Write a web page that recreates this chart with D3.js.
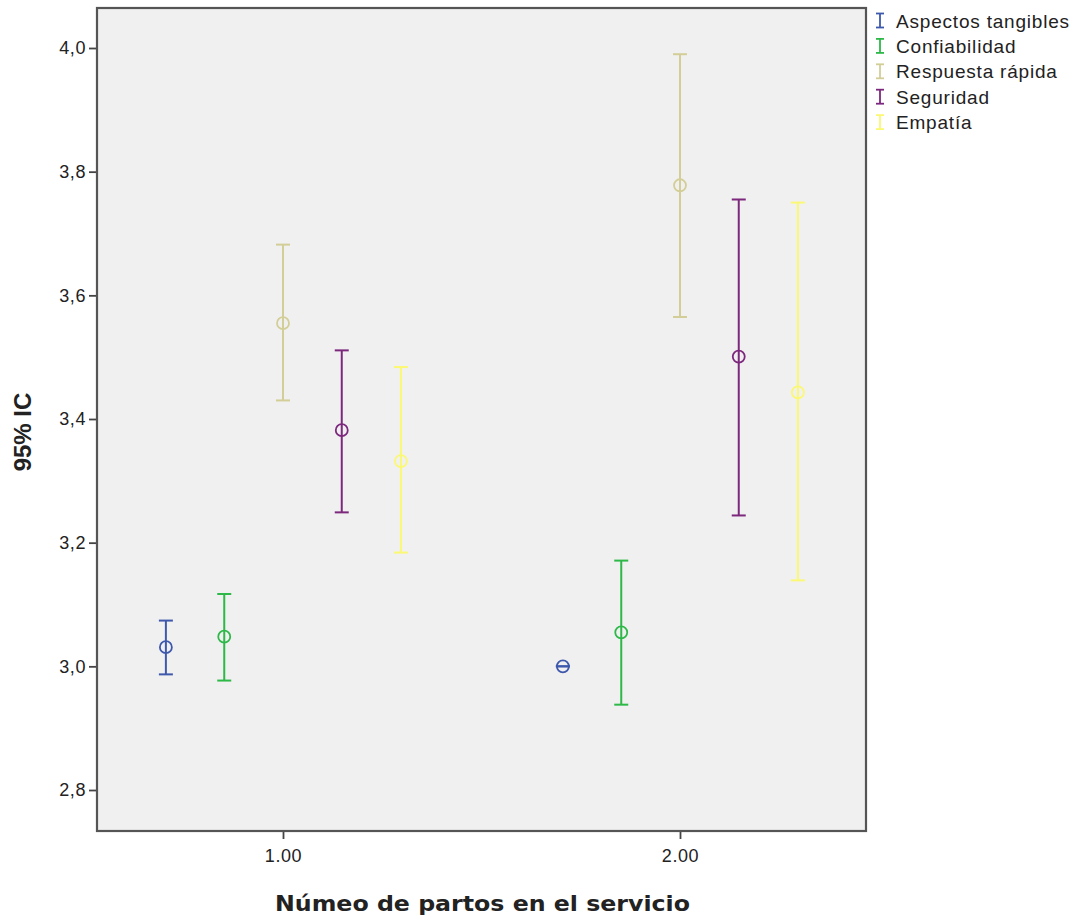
<!DOCTYPE html>
<html>
<head>
<meta charset="utf-8">
<script src="https://cdn.jsdelivr.net/npm/d3@7"></script>
<style>
  body { margin: 0; background: #fff; }
  svg { display: block; font-family: "Liberation Sans", Arial, sans-serif; }
</style>
</head>
<body>
<div id="chart"></div>
<script>
// groups on the x axis and the five SERVQUAL dimensions
const groups = [1, 2];
const groupLabels = ['1.00', '2.00'];
const seriesNames = ['Aspectos tangibles', 'Confiabilidad', 'Respuesta rápida', 'Seguridad', 'Empatía'];
const seriesColors = ['#3E58AC', '#2EB848', '#D3CE97', '#7C287D', '#FBF873'];

// mean, lower, upper per series, one entry per group
const means = [
  [3.031, 3.000],
  [3.048, 3.055],
  [3.555, 3.778],
  [3.382, 3.501],
  [3.332, 3.443]
];
const lowers = [
  [2.987, 3.000],
  [2.977, 2.938],
  [3.430, 3.565],
  [3.249, 3.244],
  [3.184, 3.139]
];
const uppers = [
  [3.074, 3.000],
  [3.117, 3.171],
  [3.682, 3.990],
  [3.511, 3.755],
  [3.484, 3.750]
];
const yTicks = [2.8, 3.0, 3.2, 3.4, 3.6, 3.8, 4.0];
const seriesOffsets = [-0.295, -0.148, 0, 0.148, 0.297];

const W = 1075, H = 921;
const m = { left: 97, right: 866, top: 8, bottom: 831 };

const svg = d3.select('#chart').append('svg')
  .attr('width', W).attr('height', H);

const x = d3.scaleLinear().domain([1, 2]).range([283, 680]);
const y = d3.scaleLinear().domain([2.8, 4.0]).range([790, 48]);

// plot background
svg.append('rect')
  .attr('x', m.left).attr('y', m.top)
  .attr('width', m.right - m.left).attr('height', m.bottom - m.top)
  .attr('fill', '#F0F0F0').attr('stroke', '#555').attr('stroke-width', 2.2);

// axes
const yAxis = d3.axisLeft(y).tickValues(yTicks)
  .tickFormat(d => d3.format('.1f')(d).replace('.', ','))
  .tickSize(7).tickSizeOuter(0);
const gy = svg.append('g').attr('transform', 'translate(' + (m.left - 1) + ',0)').call(yAxis);
gy.select('.domain').remove();
gy.selectAll('line').attr('stroke', '#444').attr('stroke-width', 1.8);
gy.selectAll('text').attr('font-size', 18).attr('fill', '#222')
  .attr('letter-spacing', 0.6);

const xAxis = d3.axisBottom(x).tickValues(groups)
  .tickFormat((d, i) => groupLabels[i]).tickSize(7).tickSizeOuter(0);
const gx = svg.append('g').attr('transform', 'translate(0,' + (m.bottom + 1) + ')').call(xAxis);
gx.select('.domain').remove();
gx.selectAll('line').attr('stroke', '#444').attr('stroke-width', 1.8);
gx.selectAll('text').attr('font-size', 18).attr('fill', '#222')
  .attr('letter-spacing', 0.6).attr('dy', '1.1em');

// axis titles
svg.append('text')
  .attr('transform', 'translate(31,' + 432 + ') rotate(-90)')
  .attr('text-anchor', 'middle').attr('font-size', 24).attr('font-weight', 'bold')
  .attr('fill', '#222').text('95% IC');
svg.append('text')
  .attr('x', 275).attr('y', 911)
  .attr('font-family', '"DejaVu Sans", sans-serif')
  .attr('font-size', 22).attr('font-weight', 'bold')
  .attr('textLength', 415).attr('lengthAdjust', 'spacingAndGlyphs')
  .attr('fill', '#222').text('Númeo de partos en el servicio');

// error bars
const cap = 7;
seriesNames.forEach((name, s) => {
  const g = svg.append('g').attr('stroke', seriesColors[s]).attr('fill', 'none').attr('stroke-width', 2);
  groups.forEach((gv, i) => {
    const cx = x(gv + seriesOffsets[s]);
    const yl = y(lowers[s][i]), yu = y(uppers[s][i]), ym = y(means[s][i]);
    g.append('line').attr('x1', cx).attr('x2', cx).attr('y1', yu).attr('y2', yl);
    g.append('line').attr('x1', cx - cap).attr('x2', cx + cap).attr('y1', yu).attr('y2', yu);
    g.append('line').attr('x1', cx - cap).attr('x2', cx + cap).attr('y1', yl).attr('y2', yl);
    g.append('circle').attr('cx', cx).attr('cy', ym).attr('r', 6).attr('stroke-width', 1.8);
  });
});

// legend
const lg = svg.append('g');
seriesNames.forEach((name, s) => {
  const ly = 20.5 + s * 25.4;
  const row = lg.append('g').attr('transform', 'translate(0,' + ly + ')')
    .attr('stroke', seriesColors[s]).attr('stroke-width', 1.8);
  row.append('line').attr('x1', 880).attr('x2', 880).attr('y1', -7).attr('y2', 7);
  row.append('line').attr('x1', 876).attr('x2', 884).attr('y1', -7).attr('y2', -7);
  row.append('line').attr('x1', 876).attr('x2', 884).attr('y1', 7).attr('y2', 7);
  row.append('text').attr('x', 896).attr('y', 7).attr('font-size', 19)
    .attr('stroke', 'none').attr('letter-spacing', 0.8)
    .attr('fill', '#222').text(name);
});
</script>
</body>
</html>
